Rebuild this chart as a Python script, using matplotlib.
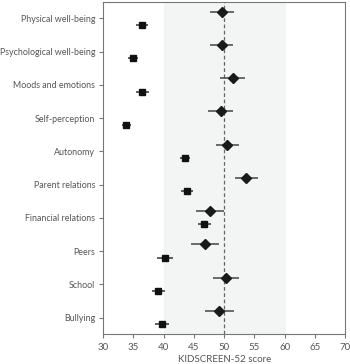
import numpy as np
import matplotlib.pyplot as plt

# KIDSCREEN-52 domains, top to bottom
domains = ['Physical well-being', 'Psychological well-being', 'Moods and emotions',
           'Self-perception', 'Autonomy', 'Parent relations', 'Financial relations',
           'Peers', 'School', 'Bullying']

# diamonds (upper marker) : mean, lower CI, upper CI
dia_mean = [49.7, 49.6, 51.4, 49.5, 50.4, 53.6, 47.6, 46.9, 50.3, 49.1]
dia_lo = [47.6, 47.6, 49.3, 47.4, 48.6, 51.8, 45.3, 44.5, 48.1, 46.9]
dia_hi = [51.6, 51.5, 53.5, 51.5, 52.5, 55.5, 50.0, 49.2, 52.5, 51.6]

# squares (lower marker)
sq_mean = [36.5, 35.0, 36.5, 33.8, 43.5, 43.8, 46.7, 40.2, 39.1, 39.8]
sq_lo = [35.5, 34.1, 35.5, 33.2, 42.7, 42.9, 45.7, 39.0, 38.1, 38.6]
sq_hi = [37.4, 35.8, 37.6, 34.6, 44.4, 44.8, 47.8, 41.5, 40.2, 40.9]

plt.rcParams['font.family'] = ['Lato', 'DejaVu Sans']

fig = plt.figure(figsize=(3.5, 3.64), dpi=100)
ax = fig.add_axes([0.294, 0.082, 0.693, 0.913])

y = np.arange(len(domains))
off = 0.2

ax.axvspan(40, 60, color='#f3f5f5', zorder=0)
ax.axvline(50, color='#666666', linestyle='--', linewidth=0.9, dashes=(3, 2), zorder=1)

dia_mean = np.array(dia_mean)
sq_mean = np.array(sq_mean)
ax.errorbar(dia_mean, y - off,
            xerr=[dia_mean - np.array(dia_lo), np.array(dia_hi) - dia_mean],
            fmt='D', color='#1a1a1a', ecolor='#444444', elinewidth=1.1,
            markersize=5, capsize=0, zorder=3)
ax.errorbar(sq_mean, y + off,
            xerr=[sq_mean - np.array(sq_lo), np.array(sq_hi) - sq_mean],
            fmt='s', color='#111111', ecolor='#333333', elinewidth=1.1,
            markersize=5, capsize=0, zorder=3)

ax.set_ylim(len(domains) - 0.5, -0.5)
ax.set_xlim(30, 70)
ax.set_xticks(np.arange(30, 71, 5))
ax.set_yticks(y)
ax.set_yticklabels(domains)

for s in ax.spines.values():
    s.set_color('#777777')
    s.set_linewidth(0.8)
ax.tick_params(colors='#777777', labelcolor='#555555', labelsize=7, length=3, width=0.8)
ax.tick_params(axis='y', labelsize=6.4, pad=2.5)
ax.set_xlabel('KIDSCREEN-52 score', fontsize=7, color='#555555', labelpad=2)

plt.savefig('out.png', dpi=100)
